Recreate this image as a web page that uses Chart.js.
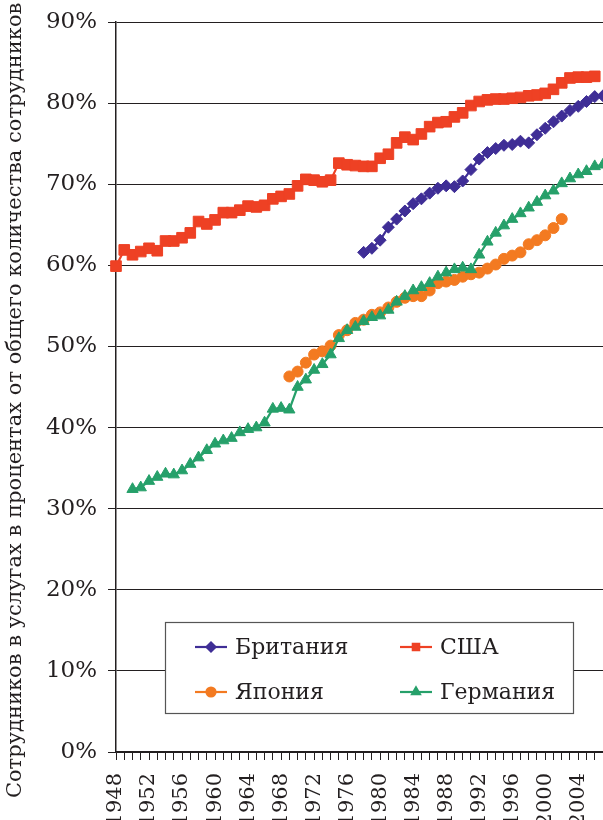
<!DOCTYPE html>
<html>
<head>
<meta charset="utf-8">
<script src="https://cdn.jsdelivr.net/npm/chart.js@4/dist/chart.umd.min.js"></script>
<style>
  html, body { margin: 0; padding: 0; background: #fff; overflow: hidden; }
  #wrap { position: relative; width: 603px; height: 820px; }
</style>
</head>
<body>
<div id="wrap"><canvas id="chart"></canvas></div>
<script>
const years = [1948, 1949, 1950, 1951, 1952, 1953, 1954, 1955, 1956, 1957,
  1958, 1959, 1960, 1961, 1962, 1963, 1964, 1965, 1966, 1967,
  1968, 1969, 1970, 1971, 1972, 1973, 1974, 1975, 1976, 1977,
  1978, 1979, 1980, 1981, 1982, 1983, 1984, 1985, 1986, 1987,
  1988, 1989, 1990, 1991, 1992, 1993, 1994, 1995, 1996, 1997,
  1998, 1999, 2000, 2001, 2002, 2003, 2004, 2005, 2006, 2007];
const tickYears = ['1948', '1952', '1956', '1960', '1964', '1968', '1972',
  '1976', '1980', '1984', '1988', '1992', '1996', '2000', '2004'];
const yTicks = [0, 10, 20, 30, 40, 50, 60, 70, 80, 90];

// Британия 1978-2007
const britainStart = 1978;
const britain = [61.6, 62.1, 63.1, 64.7, 65.7, 66.7, 67.6, 68.2, 68.9, 69.5,
  69.8, 69.7, 70.4, 71.8, 73.1, 73.9, 74.4, 74.8, 74.9, 75.3,
  75.1, 76.1, 76.9, 77.7, 78.4, 79.1, 79.6, 80.2, 80.8, 80.9];
// США 1948-2006
const usaStart = 1948;
const usa = [59.9, 61.9, 61.3, 61.7, 62.1, 61.8, 63.0, 63.0, 63.4, 64.0,
  65.4, 65.1, 65.6, 66.5, 66.5, 66.8, 67.3, 67.2, 67.4, 68.2,
  68.5, 68.8, 69.8, 70.6, 70.5, 70.3, 70.5, 72.6, 72.4, 72.3,
  72.2, 72.2, 73.2, 73.7, 75.1, 75.8, 75.5, 76.2, 77.1, 77.6,
  77.7, 78.3, 78.8, 79.7, 80.2, 80.4, 80.5, 80.5, 80.6, 80.7,
  80.9, 81.0, 81.2, 81.7, 82.5, 83.1, 83.2, 83.2, 83.3];
// Япония 1969-2002
const japanStart = 1969;
const japan = [46.3, 46.9, 48.0, 49.0, 49.4, 50.1, 51.4, 52.0, 52.9, 53.3,
  53.9, 54.2, 54.8, 55.5, 56.0, 56.2, 56.2, 56.9, 57.8, 58.0,
  58.2, 58.6, 58.9, 59.1, 59.6, 60.1, 60.8, 61.2, 61.6, 62.6,
  63.1, 63.7, 64.6, 65.7];
// Германия 1950-2007
const germanyStart = 1950;
const germany = [32.4, 32.6, 33.4, 33.9, 34.3, 34.2, 34.7, 35.5, 36.3, 37.2,
  38.0, 38.4, 38.7, 39.4, 39.8, 40.0, 40.6, 42.3, 42.4, 42.2,
  45.0, 45.9, 47.1, 47.8, 49.0, 51.0, 52.0, 52.4, 53.1, 53.6,
  53.8, 54.5, 55.5, 56.2, 56.9, 57.3, 57.8, 58.6, 59.1, 59.5,
  59.7, 59.5, 61.3, 62.9, 64.0, 64.9, 65.7, 66.4, 67.1, 67.8,
  68.6, 69.2, 70.1, 70.7, 71.2, 71.6, 72.2, 72.4];

const ink = '#231F20';
const serif = 'DejaVu Serif';

// line up a series that starts later than the first category
function alignTo(start, values) {
  return years.map(y => {
    const v = values[y - start];
    return v === undefined ? null : v;
  });
}

function series(label, color, pointStyle, radius, values, start, order) {
  return {
    label: label,
    data: alignTo(start, values),
    borderColor: color,
    backgroundColor: color,
    pointBackgroundColor: color,
    pointBorderColor: color,
    pointBorderWidth: 1,
    pointStyle: pointStyle,
    pointRadius: radius,
    borderWidth: 2.2,
    tension: 0,
    spanGaps: false,
    order: order
  };
}

const datasets = [
  series('Британия', '#3F2E96', 'rectRot', 6, britain, britainStart, 3),
  series('США', '#EE4124', 'rect', 7.5, usa, usaStart, 2),
  series('Япония', '#F37A21', 'circle', 5.5, japan, japanStart, 1),
  series('Германия', '#26A06A', 'triangle', 6.5, germany, germanyStart, 0)
];

const legendBox = { left: 165, top: 622, width: 408, height: 91 };
const legendCells = [
  { col: 0, row: 0 }, { col: 1, row: 0 }, { col: 0, row: 1 }, { col: 1, row: 1 }
];

const boxLegend = {
  id: 'boxLegend',
  afterDraw(chart) {
    const c = chart.ctx;
    const b = legendBox;
    c.save();
    c.fillStyle = '#fff';
    c.fillRect(b.left, b.top, b.width, b.height);
    c.strokeStyle = '#555';
    c.lineWidth = 1.2;
    c.strokeRect(b.left + 0.5, b.top + 0.5, b.width, b.height);
    c.font = '22px "' + serif + '"';
    c.textBaseline = 'middle';
    chart.data.datasets.forEach((ds, i) => {
      const cell = legendCells[i];
      const x0 = b.left + 30 + cell.col * 205;
      const y0 = b.top + 25 + cell.row * 45;
      c.strokeStyle = ds.borderColor;
      c.fillStyle = ds.borderColor;
      c.lineWidth = 2.2;
      c.beginPath();
      c.moveTo(x0, y0);
      c.lineTo(x0 + 32, y0);
      c.stroke();
      Chart.helpers.drawPoint(c, { pointStyle: ds.pointStyle, radius: 4.5, rotation: 0, borderWidth: 1 }, x0 + 16, y0);
      c.fillStyle = ink;
      c.textAlign = 'left';
      c.fillText(ds.label, x0 + 40, y0 + 1);
    });
    c.restore();
  }
};

const ctx = document.getElementById('chart').getContext('2d');
new Chart(ctx, {
  type: 'line',
  data: { labels: years.map(String), datasets: datasets },
  plugins: [boxLegend],
  options: {
    responsive: true,
    maintainAspectRatio: false,
    animation: false,
    layout: { autoPadding: false, padding: { top: 22, right: 0, left: 0, bottom: 0 } },
    plugins: { legend: { display: false }, tooltip: { enabled: false } },
    scales: {
      x: {
        ticks: {
          autoSkip: false,
          maxRotation: 90,
          minRotation: 90,
          padding: 13,
          color: ink,
          font: { family: serif, size: 21 },
          callback: function (value) {
            const l = this.getLabelForValue(value);
            return tickYears.includes(l) ? l : '';
          }
        },
        grid: { drawOnChartArea: false, drawTicks: true, tickLength: 8, color: ink },
        border: { color: ink, width: 1.5 },
        afterFit: s => { s.height = 68; s.paddingLeft = 0; s.paddingRight = 0; }
      },
      y: {
        min: yTicks[0],
        max: yTicks[yTicks.length - 1],
        afterBuildTicks: s => { s.ticks = yTicks.map(v => ({ value: v })); },
        ticks: {
          callback: v => v + '%',
          color: ink,
          font: { family: serif, size: 23 },
          padding: 11
        },
        grid: { color: ink, lineWidth: 1, tickLength: 8 },
        border: { color: ink, width: 1.5 },
        title: {
          display: true,
          text: 'Сотрудников в услугах в процентах от общего количества сотрудников    ',
          color: ink,
          font: { family: serif, size: 21 },
          padding: { top: 3, bottom: 0 }
        },
        afterFit: s => { s.width = 116; s.paddingTop = 0; s.paddingBottom = 0; }
      }
    }
  }
});
</script>
</body>
</html>
